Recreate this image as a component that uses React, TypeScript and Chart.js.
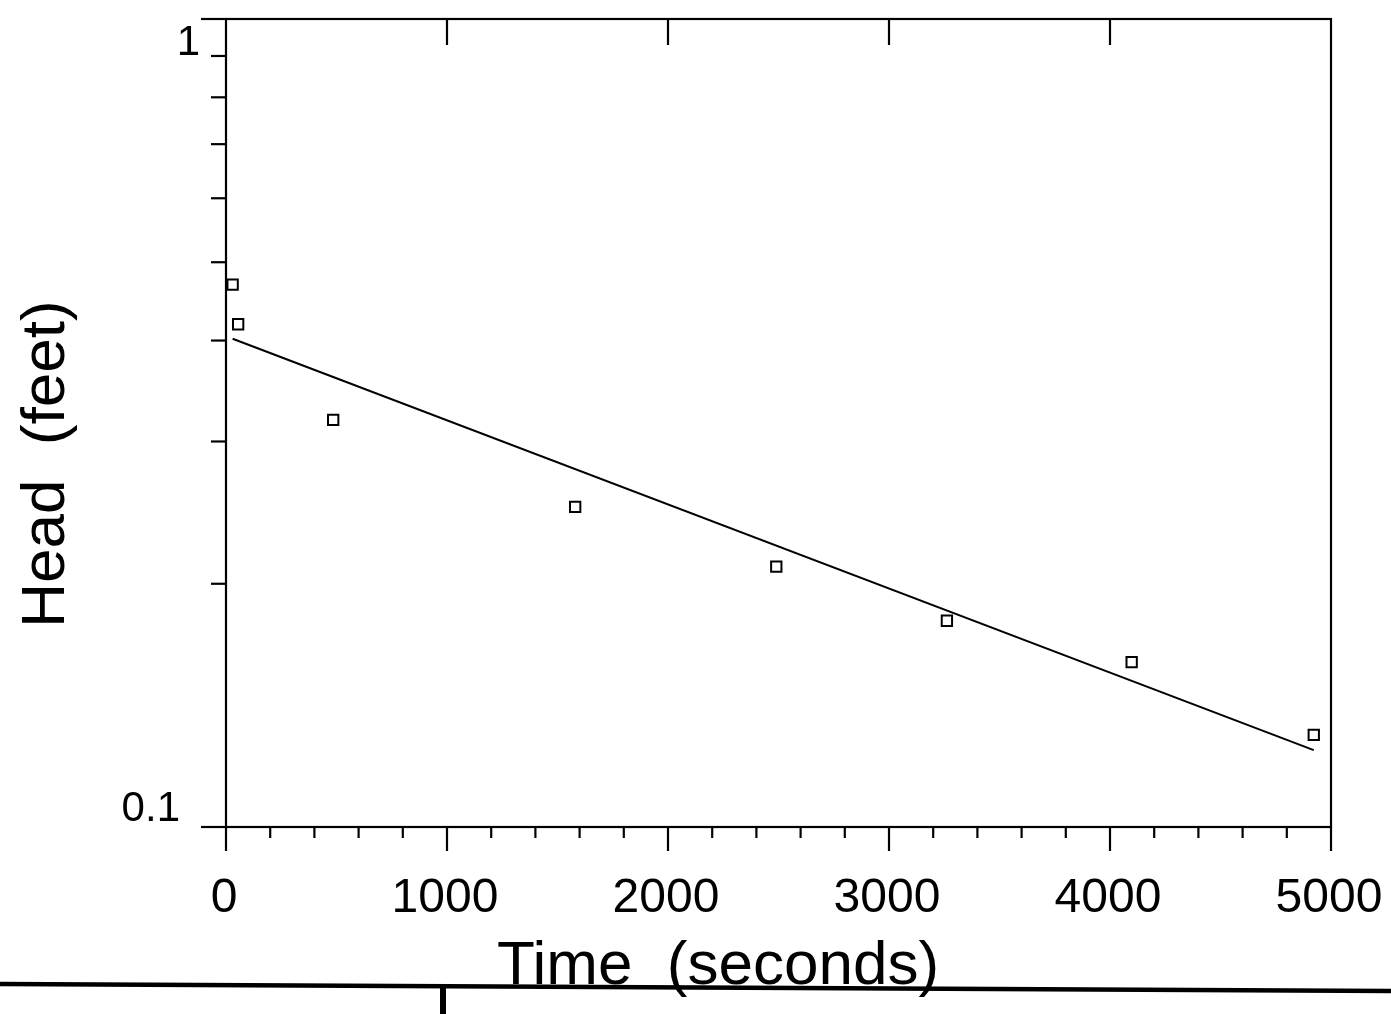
import React, { useEffect, useRef } from "react";
import { Chart, registerables } from "chart.js";

Chart.register(...registerables);

// Measured data (time in seconds, head in feet)
const TIME = [30, 55, 485, 1580, 2490, 3262, 4098, 4922];
const HEAD = [0.469, 0.419, 0.319, 0.249, 0.21, 0.18, 0.16, 0.13];

// Fitted straight line (semi-log)
const FIT_TIME = [30, 4922];
const FIT_HEAD = [0.402, 0.1245];

// Axis ticks
const X_MAJOR = [0, 1000, 2000, 3000, 4000, 5000];
const X_LABELS = ["0", "1000", "2000", "3000", "4000", "5000"];
const X_MINOR_STEP = 200;
const Y_MAJOR = [0.1, 1];
const Y_LABELS = ["0.1", "1"];
const Y_MINOR = [0.2, 0.3, 0.4, 0.5, 0.6, 0.7, 0.8, 0.9];

const X_TITLE = "Time  (seconds)";
const Y_TITLE = "Head  (feet)";

const FONT = "'Liberation Sans', Arial, sans-serif";

const framePlugin = {
  id: "framePlugin",
  afterDraw(chart: any) {
    const { ctx, chartArea, scales } = chart;
    const { left, right, top, bottom } = chartArea;
    const xs = scales.x;
    const ys = scales.y;
    ctx.save();
    ctx.strokeStyle = "#000";
    ctx.fillStyle = "#000";
    ctx.lineWidth = 2.2;
    ctx.lineCap = "butt";
    const line = (x1: number, y1: number, x2: number, y2: number) => {
      ctx.beginPath();
      ctx.moveTo(x1, y1);
      ctx.lineTo(x2, y2);
      ctx.stroke();
    };
    // frame
    ctx.strokeRect(left, top, right - left, bottom - top);

    // y ticks (outside, left)
    Y_MAJOR.forEach((v) => {
      const py = ys.getPixelForValue(v);
      line(left - 25, py, left, py);
    });
    Y_MINOR.forEach((v) => {
      const py = ys.getPixelForValue(v);
      line(left - 15, py, left, py);
    });

    // x ticks
    X_MAJOR.forEach((v) => {
      const px = xs.getPixelForValue(v);
      line(px, bottom, px, bottom + 24);
      if (v > X_MAJOR[0] && v < X_MAJOR[X_MAJOR.length - 1]) {
        line(px, top, px, top + 26);
      }
    });
    for (let v = X_MAJOR[0]; v <= X_MAJOR[X_MAJOR.length - 1]; v += X_MINOR_STEP) {
      if (X_MAJOR.includes(v)) continue;
      const px = xs.getPixelForValue(v);
      line(px, bottom, px, bottom + 11);
    }

    // x tick labels
    ctx.font = `48px ${FONT}`;
    ctx.textAlign = "center";
    ctx.textBaseline = "alphabetic";
    X_MAJOR.forEach((v, i) => {
      const px = xs.getPixelForValue(v);
      ctx.fillText(X_LABELS[i], px - 2, bottom + 85);
    });

    // y tick labels
    ctx.font = `42px ${FONT}`;
    ctx.textAlign = "right";
    const pLow = ys.getPixelForValue(Y_MAJOR[0]);
    ctx.fillText(Y_LABELS[0], left - 46, pLow - 6);
    const pHigh = ys.getPixelForValue(Y_MAJOR[1]);
    ctx.fillText(Y_LABELS[1], left - 26, pHigh + 36);

    // axis titles
    ctx.font = `62px ${FONT}`;
    ctx.textAlign = "center";
    ctx.fillText(X_TITLE, 718, 984);

    ctx.save();
    ctx.translate(64, 464);
    ctx.rotate(-Math.PI / 2);
    ctx.fillText(Y_TITLE, 0, 0);
    ctx.restore();

    // scanned page edge (table border below the figure)
    ctx.lineWidth = 4.5;
    line(0, 984, 1391, 991);
    ctx.lineWidth = 6;
    line(443, 985, 443, 1014);

    ctx.restore();
  },
};

export default function App() {
  const ref = useRef<HTMLCanvasElement | null>(null);

  useEffect(() => {
    document.body.style.margin = "0";
    const canvas = ref.current;
    if (!canvas) return;
    const chart = new Chart(canvas, {
      type: "scatter",
      data: {
        datasets: [
          {
            label: "Fit",
            data: FIT_TIME.map((t, i) => ({ x: t, y: FIT_HEAD[i] })),
            showLine: true,
            borderColor: "#000",
            borderWidth: 2,
            pointRadius: 0,
            fill: false,
          },
          {
            label: "Observed",
            data: TIME.map((t, i) => ({ x: t, y: HEAD[i] })),
            showLine: false,
            pointStyle: "rect",
            pointRadius: 7.3,
            pointBorderWidth: 2,
            pointBorderColor: "#000",
            pointBackgroundColor: "rgba(255,255,255,0)",
          },
        ],
      },
      options: {
        animation: false,
        responsive: false,
        devicePixelRatio: 1,
        layout: { padding: { left: 226, right: 60, top: 19, bottom: 187 } },
        plugins: {
          legend: { display: false },
          tooltip: { enabled: false },
        },
        scales: {
          x: { type: "linear", display: false, min: 0, max: 5000 },
          y: { type: "logarithmic", display: false, min: 0.1, max: 1 },
        },
      },
      plugins: [framePlugin],
    });
    return () => chart.destroy();
  }, []);

  return (
    <div style={{ position: "absolute", left: 0, top: 0, width: 1391, height: 1014, background: "#fff" }}>
      <canvas ref={ref} width={1391} height={1014} style={{ display: "block" }} />
    </div>
  );
}
